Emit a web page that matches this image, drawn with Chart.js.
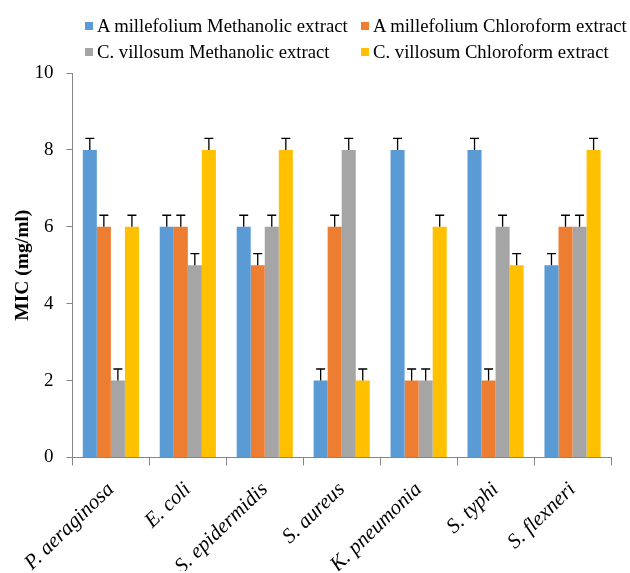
<!DOCTYPE html>
<html>
<head>
<meta charset="utf-8">
<script src="https://cdn.jsdelivr.net/npm/chart.js@4.4.1/dist/chart.umd.min.js"></script>
<style>
    html, body { margin: 0; padding: 0; background: #fff; }
    #wrap { position: relative; width: 630px; height: 573px; }
    #legend {
        position: absolute; left: 85px; top: 16px;
        display: grid; grid-template-columns: 276px 270px; row-gap: 6px;
        font-family: "Liberation Serif", "Times New Roman", serif; font-size: 18.7px; line-height: 20px; color: #000;
    }
    #legend .item { display: flex; align-items: center; white-space: nowrap; }
    #legend .sw { width: 8px; height: 8px; margin-right: 4px; }
</style>
</head>
<body>
<div id="wrap">
    <canvas id="chart" width="630" height="573"></canvas>
    <div id="legend"></div>
</div>
<script>
const categories = ['P. aeraginosa', 'E. coli', 'S. epidermidis', 'S. aureus', 'K. pneumonia', 'S. typhi', 'S. flexneri'];
const seriesNames = [
    'A millefolium Methanolic extract',
    'A millefolium Chloroform extract',
    'C. villosum Methanolic extract',
    'C. villosum Chloroform extract'
];
const amMethanolic = [8, 6, 6, 2, 8, 8, 5];
const amChloroform = [6, 6, 5, 6, 2, 2, 6];
const cvMethanolic = [2, 5, 6, 8, 2, 6, 6];
const cvChloroform = [6, 8, 8, 2, 6, 5, 8];
const errorSize = 0.3;
const colors = ['#5b9bd5', '#ed7d31', '#a5a5a5', '#ffc000'];

const seriesValues = [amMethanolic, amChloroform, cvMethanolic, cvChloroform];

// legend in two aligned columns like the original
const legendEl = document.getElementById('legend');
seriesNames.forEach((name, i) => {
    const item = document.createElement('div');
    item.className = 'item';
    item.innerHTML = `<span class="sw" style="background:${colors[i]}"></span><span>${name}</span>`;
    legendEl.appendChild(item);
});

// draw the upper error bars with caps
const errorBars = {
    id: 'errorBars',
    afterDatasetsDraw(chart) {
        const ctx = chart.ctx;
        const yScale = chart.scales.y;
        ctx.save();
        ctx.strokeStyle = '#000';
        ctx.lineWidth = 1.3;
        chart.data.datasets.forEach((ds, di) => {
            const meta = chart.getDatasetMeta(di);
            meta.data.forEach((bar, i) => {
                const top = yScale.getPixelForValue(ds.data[i] + errorSize);
                ctx.beginPath();
                ctx.moveTo(bar.x, bar.y);
                ctx.lineTo(bar.x, top);
                ctx.moveTo(bar.x - 4.5, top);
                ctx.lineTo(bar.x + 4.5, top);
                ctx.stroke();
            });
        });
        ctx.restore();
    }
};

const yTickPadding = 13;

new Chart(document.getElementById('chart').getContext('2d'), {
    type: 'bar',
    data: {
        labels: categories,
        datasets: seriesValues.map((vals, i) => ({
            label: seriesNames[i],
            data: vals,
            backgroundColor: colors[i],
            borderWidth: 0
        }))
    },
    options: {
        responsive: false,
        animation: false,
        datasets: {
            bar: { categoryPercentage: 0.73, barPercentage: 1.0 }
        },
        layout: { padding: { top: 73, right: 19, left: 7, bottom: 2 } },
        scales: {
            x: {
                // rotated first label may hang past the y axis, like the original
                afterFit: (scale) => { scale.paddingLeft = 0; scale.height -= 20; },
                grid: { display: true, drawOnChartArea: false, offset: true, color: '#868686', tickLength: 8 },
                border: { color: '#868686', width: 1 },
                ticks: {
                    color: '#000', padding: 12,
                    minRotation: 44, maxRotation: 44,
                    font: { family: 'Liberation Serif', size: 21, style: 'italic' }
                }
            },
            y: {
                min: 0, max: 10,
                // chart.js reserves the tick padding twice, take one back
                afterFit: (scale) => { scale.width -= yTickPadding; },
                grid: { display: true, drawOnChartArea: false, color: '#868686', tickLength: 6 },
                border: { color: '#868686', width: 1 },
                ticks: {
                    stepSize: 2, color: '#000', padding: yTickPadding,
                    font: { family: 'Liberation Serif', size: 19 }
                },
                title: {
                    display: true, text: 'MIC (mg/ml)', color: '#000',
                    padding: { top: 4, bottom: 0 },
                    font: { family: 'Liberation Serif', size: 19.5, weight: 'bold' }
                }
            }
        },
        plugins: {
            legend: { display: false },
            tooltip: { enabled: false }
        }
    },
    plugins: [errorBars]
});
</script>
</body>
</html>
